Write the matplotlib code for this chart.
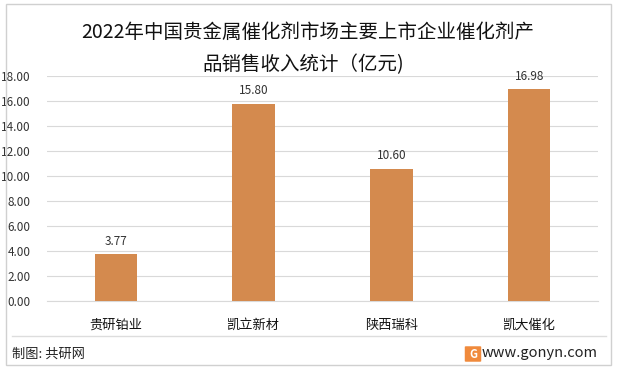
import matplotlib.pyplot as plt
from matplotlib.patches import Rectangle, FancyBboxPatch

plt.rcParams['font.family'] = ['Noto Sans CJK SC', 'DejaVu Sans']

companies = ["贵研铂业", "凯立新材", "陕西瑞科", "凯大催化"]
revenue = [3.77, 15.80, 10.60, 16.98]
y_ticks = [0, 2, 4, 6, 8, 10, 12, 14, 16, 18]

W, H = 617, 369
fig = plt.figure(figsize=(W / 100, H / 100), dpi=100)

# outer frame
fig.patches.append(Rectangle((6 / W, 4 / H), 605 / W, 361 / H, transform=fig.transFigure,
                             fill=False, edgecolor="#d0d0d0", linewidth=1))

ax = fig.add_axes([47 / W, 1 - 301 / H, 551 / W, 225 / H])
x = range(len(companies))
bars = ax.bar(x, revenue, width=0.31, color="#D48A4E", zorder=3)
for xi, v in zip(x, revenue):
    ax.text(xi, v + 0.5, f"{v:.2f}", ha="center", va="bottom", fontsize=8.5, color="#333333")

ax.set_xlim(-0.5, len(companies) - 0.5)
ax.set_ylim(0, 18)
ax.set_yticks(y_ticks)
ax.set_yticklabels([f"{t:.2f}" for t in y_ticks], fontsize=8.5, color="#333333")
ax.set_xticks(list(x))
ax.set_xticklabels(companies, fontsize=9.5, color="#111111")
ax.tick_params(axis="both", length=0)
ax.tick_params(axis="y", pad=12)
ax.tick_params(axis="x", pad=13)
ax.grid(axis="y", color="#d9d9d9", linewidth=0.8, zorder=0)
for s in ["top", "right", "left"]:
    ax.spines[s].set_visible(False)
ax.spines["bottom"].set_color("#d9d9d9")

fig.text(308 / W, 1 - 32 / H, "2022年中国贵金属催化剂市场主要上市企业催化剂产",
         ha="center", va="center", fontsize=14, color="#111111")
fig.text(303 / W, 1 - 65 / H, "品销售收入统计（亿元)",
         ha="center", va="center", fontsize=14, color="#111111")

# footer
fig.add_artist(plt.Line2D([12 / W, 606 / W], [1 - 336 / H, 1 - 336 / H],
                          transform=fig.transFigure, color="#dddddd", linewidth=1))
fig.text(12 / W, 1 - 354 / H, "制图: 共研网", ha="left", va="center", fontsize=9.5, color="#222222")
fig.text(598 / W, 1 - 353 / H, "www.gonyn.com", ha="right", va="center", fontsize=10.5, color="#222222")
fig.patches.append(FancyBboxPatch((466 / W, 1 - 361 / H), 14 / W, 14 / H,
                                  boxstyle="round,pad=0.002", transform=fig.transFigure,
                                  facecolor="#F08A3C", edgecolor="none"))
fig.text(473 / W, 1 - 354 / H, "G", ha="center", va="center", fontsize=8,
         color="white", fontweight="bold")

fig.savefig("out.png", dpi=100)
